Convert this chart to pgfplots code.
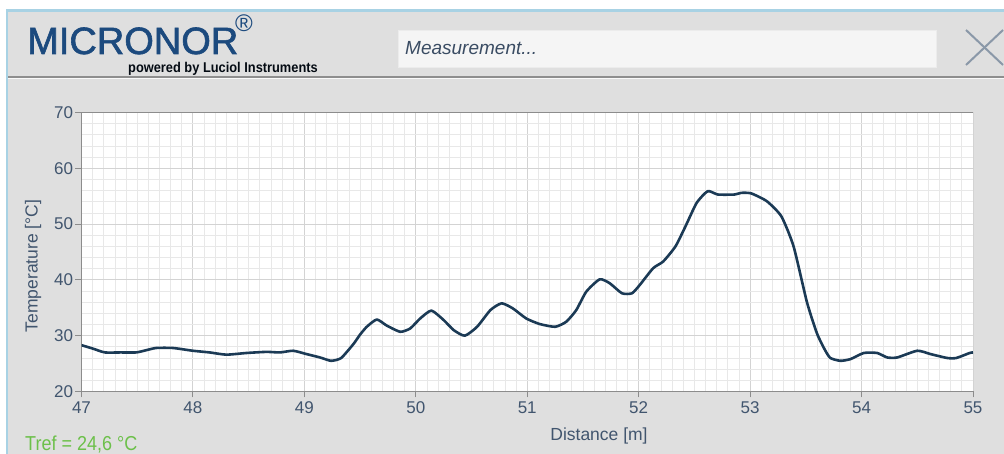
\documentclass[border=0pt]{standalone}
\usepackage{pgfplots}
\pgfplotsset{compat=1.18}
\usepackage{fontspec}
\setmainfont{Liberation Sans}
\definecolor{winbg}{HTML}{DFDFDF}
\definecolor{bordblue}{HTML}{A8D2E4}
\definecolor{sepgray}{HTML}{8E8E8E}
\definecolor{logoblue}{HTML}{1C4A7E}
\definecolor{txtblue}{HTML}{41556E}
\definecolor{curve}{HTML}{1B3A55}
\definecolor{majgrid}{HTML}{D3D3D3}
\definecolor{mingrid}{HTML}{E8E8E8}
\definecolor{axgray}{HTML}{8C8C8C}
\definecolor{trefgreen}{HTML}{6CC04A}
\definecolor{xgray}{HTML}{8A98A8}

\pgfplotstableread{
x T
47.00 28.3
47.10 27.7
47.21 27.0
47.35 27.0
47.49 27.0
47.58 27.4
47.67 27.8
47.82 27.8
48.00 27.3
48.15 27.0
48.30 26.6
48.48 26.9
48.66 27.1
48.78 27.0
48.90 27.3
49.02 26.7
49.14 26.1
49.24 25.5
49.33 26.0
49.44 28.5
49.50 30.2
49.56 31.6
49.65 32.9
49.74 31.8
49.86 30.7
49.95 31.3
50.04 33.1
50.14 34.5
50.25 32.8
50.34 31.0
50.44 30.0
50.55 31.6
50.67 34.6
50.77 35.8
50.87 34.9
50.99 33.1
51.11 32.1
51.25 31.6
51.35 32.5
51.44 34.6
51.53 37.9
51.65 40.1
51.74 39.4
51.85 37.6
51.94 37.6
52.01 39.1
52.13 42.1
52.22 43.3
52.33 46.0
52.42 49.6
52.52 53.8
52.62 55.9
52.71 55.3
52.86 55.3
52.92 55.6
53.01 55.5
53.15 54.1
53.28 51.4
53.39 46.0
53.51 36.0
53.60 30.4
53.67 27.5
53.72 26.0
53.81 25.5
53.90 25.8
54.02 26.9
54.14 26.9
54.23 26.1
54.32 26.1
54.50 27.3
54.62 26.7
54.77 26.0
54.85 26.0
54.97 26.9
55.00 27.0
}\dataT

\begin{document}
\begin{tikzpicture}[x=1pt,y=1pt]
\useasboundingbox (0,0) rectangle (1004,454);
\fill[white] (0,0) rectangle (1004,454);
\fill[winbg] (7,0) rectangle (1004,444);
\draw[bordblue, line width=2.5pt] (7,0) -- (7,443.5) -- (1004,443.5);
% header separator
\draw[sepgray, line width=1.2pt] (8,377) -- (1004,377);
\draw[white!80!winbg, line width=0.8pt] (8,375.8) -- (1004,375.8);
% logo
\node[anchor=base west, inner sep=0pt, text=logoblue, font=\fontsize{38}{40}\selectfont\addfontfeatures{FakeBold=1.6}] at (27,400) {MICRONOR};
\node[anchor=base west, inner sep=0pt, text=logoblue, font=\fontsize{24}{26}\selectfont] at (235,422) {®};
\node[anchor=base west, inner sep=0pt, text=black!85!logoblue, font=\fontsize{13.5}{15}\selectfont\bfseries] at (128,381) {\scalebox{0.95}[1.05]{powered by Luciol Instruments}};
% text field
\fill[white!70!winbg, draw=white!85!gray, line width=0.8pt] (398,387) rectangle (936,424);
\node[anchor=base west, inner sep=0pt, text=txtblue!90!black, font=\fontsize{19}{21}\selectfont\itshape] at (405,399) {Measurement...};
% close X
\draw[xgray, line width=2pt] (966,424) -- (1003,389);
\draw[xgray, line width=2pt] (966,389) -- (1003,424);

\begin{axis}[
  at={(81.5pt,62.5pt)}, anchor=south west,
  scale only axis, width=891.5pt, height=279pt,
  xmin=47, xmax=55, ymin=20, ymax=70,
  axis x line*=bottom, axis y line*=left,
  axis line style={axgray, line width=1pt},
  axis background/.style={fill=white},
  xtick={47,...,55}, ytick={20,30,...,70},
  minor x tick num=9, minor y tick num=4,
  grid=both,
  major grid style={majgrid, line width=0.9pt},
  minor grid style={mingrid, line width=0.8pt},
  minor tick length=0pt,
  major tick length=6pt,
  tick align=outside,
  tick style={axgray, line width=1pt},
  tick label style={text=txtblue, font=\fontsize{17}{19}\selectfont},
  /pgf/number format/assume math mode=true,
  xticklabel style={yshift=-1pt},
  yticklabel style={xshift=1pt},
  clip=true,
]
\addplot[curve, line width=2.6pt, line join=round, smooth, tension=0.35] table[x=x,y=T] {\dataT};
\draw[axgray, line width=1pt] (rel axis cs:0,1) -- (rel axis cs:1,1);
\end{axis}

\node[text=txtblue, font=\fontsize{17.5}{19}\selectfont, rotate=90] at (33,188) {Temperature [°C]};
\node[text=txtblue, font=\fontsize{17.5}{19}\selectfont] at (599,18) {Distance [m]};
\node[anchor=base west, inner sep=0pt, text=trefgreen, font=\fontsize{18}{20}\selectfont] at (25,3.5) {\scalebox{1}[1.12]{Tref = 24,6 °C}};
\end{tikzpicture}
\end{document}
